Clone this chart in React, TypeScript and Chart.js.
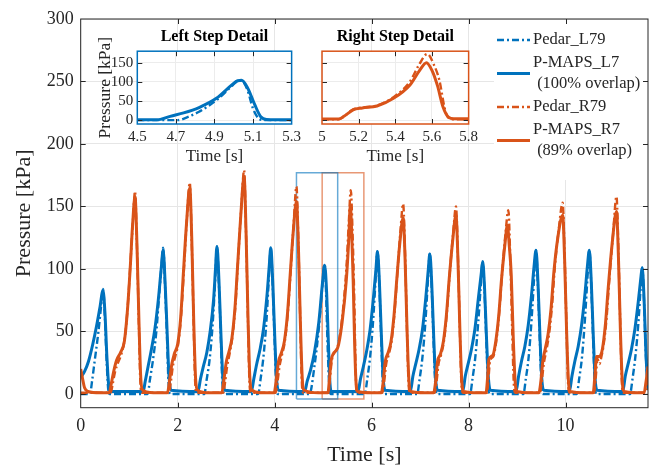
import React, { useEffect, useRef } from "react";
import { Chart, registerables } from "chart.js";
Chart.register(...registerables);

const BLUE = "#0072BD";
const ORANGE = "#D95319";
const TXT = "#262626";
const FONT = "'Liberation Serif', 'Times New Roman', serif";

// ---------- main chart data: [time s, pressure kPa] ----------
const pedarL79 = [
  [0, 0], [0.19, 0], [0.24, 12], [0.29, 27], [0.36, 48], [0.42, 70], [0.46, 84], [0.5, 60], [0.54, 22], [0.57, 3], [0.6, 0],
  [1.38, 0], [1.43, 12], [1.49, 27], [1.56, 50], [1.62, 80], [1.67, 104], [1.7, 117], [1.74, 86], [1.78, 45], [1.81, 10], [1.84, 0],
  [2.55, 0], [2.6, 12], [2.66, 28], [2.72, 55], [2.77, 88], [2.81, 118], [2.85, 88], [2.89, 45], [2.92, 10], [2.95, 0],
  [3.66, 0], [3.71, 12], [3.77, 30], [3.83, 58], [3.88, 92], [3.92, 117], [3.96, 86], [4.0, 42], [4.03, 10], [4.06, 0],
  [4.72, 0], [4.82, 22], [4.91, 52], [4.99, 89], [5.03, 104], [5.1, 30], [5.13, 4], [5.16, 0],
  [5.86, 0], [5.91, 12], [5.97, 30], [6.03, 58], [6.08, 90], [6.12, 114], [6.16, 86], [6.2, 42], [6.23, 10], [6.26, 0],
  [6.94, 0], [6.99, 12], [7.05, 30], [7.11, 58], [7.16, 90], [7.2, 112], [7.24, 84], [7.28, 40], [7.31, 10], [7.34, 0],
  [8.03, 0], [8.08, 12], [8.14, 30], [8.2, 58], [8.25, 86], [8.29, 106], [8.33, 80], [8.37, 38], [8.4, 8], [8.43, 0],
  [9.13, 0], [9.18, 12], [9.24, 30], [9.3, 60], [9.35, 92], [9.39, 115], [9.43, 86], [9.47, 42], [9.5, 10], [9.53, 0],
  [10.23, 0], [10.28, 12], [10.34, 30], [10.4, 60], [10.45, 92], [10.49, 115], [10.53, 86], [10.57, 42], [10.6, 10], [10.63, 0],
  [11.33, 0], [11.38, 12], [11.44, 30], [11.5, 56], [11.55, 86], [11.58, 101], [11.62, 72], [11.66, 28], [11.7, 3],
];

const pmapsL7 = [
  [0, 13], [0.08, 18], [0.16, 26], [0.25, 40], [0.33, 55], [0.4, 70], [0.46, 83], [0.5, 65], [0.54, 30], [0.58, 6], [0.62, 2],
  [1.29, 2], [1.33, 10], [1.39, 22], [1.46, 36], [1.53, 52], [1.6, 75], [1.66, 100], [1.7, 115], [1.74, 90], [1.78, 52], [1.82, 15], [1.86, 3],
  [2.42, 2], [2.47, 12], [2.53, 22], [2.6, 33], [2.67, 50], [2.74, 75], [2.78, 100], [2.81, 118], [2.85, 92], [2.89, 50], [2.93, 14], [2.97, 3],
  [3.52, 2], [3.57, 12], [3.63, 24], [3.7, 36], [3.77, 52], [3.84, 78], [3.89, 103], [3.92, 117], [3.96, 90], [4.0, 48], [4.04, 12], [4.08, 3],
  [4.62, 2], [4.67, 10], [4.74, 19], [4.82, 33], [4.91, 57], [4.99, 90], [5.03, 103], [5.07, 83], [5.11, 39], [5.14, 9], [5.17, 2],
  [5.72, 2], [5.77, 12], [5.83, 22], [5.9, 35], [5.97, 52], [6.04, 78], [6.09, 100], [6.12, 114], [6.16, 90], [6.2, 48], [6.24, 12], [6.28, 3],
  [6.8, 2], [6.85, 14], [6.91, 24], [6.98, 36], [7.05, 52], [7.12, 78], [7.17, 100], [7.2, 112], [7.24, 88], [7.28, 46], [7.32, 12], [7.36, 3],
  [7.88, 2], [7.93, 14], [7.99, 24], [8.06, 36], [8.13, 52], [8.2, 76], [8.26, 96], [8.29, 106], [8.33, 84], [8.37, 44], [8.41, 12], [8.45, 3],
  [8.98, 2], [9.03, 14], [9.09, 26], [9.16, 38], [9.23, 55], [9.3, 80], [9.35, 102], [9.39, 115], [9.43, 90], [9.47, 48], [9.51, 12], [9.55, 3],
  [10.08, 2], [10.13, 14], [10.19, 26], [10.26, 38], [10.33, 55], [10.4, 80], [10.45, 102], [10.49, 115], [10.53, 90], [10.57, 48], [10.61, 12], [10.65, 3],
  [11.18, 2], [11.23, 14], [11.29, 24], [11.36, 36], [11.43, 52], [11.5, 74], [11.55, 92], [11.58, 101], [11.62, 75], [11.66, 30], [11.7, 5],
];

const pedarR79 = [
  [0, 1], [0.4, 1],
  [0.62, 1], [0.66, 8], [0.71, 18], [0.77, 25], [0.84, 32], [0.91, 45], [0.97, 70], [1.03, 108], [1.08, 140], [1.12, 162], [1.16, 118], [1.2, 55], [1.23, 10], [1.26, 1],
  [1.82, 1], [1.86, 10], [1.9, 22], [1.95, 30], [2.01, 40], [2.07, 62], [2.13, 100], [2.19, 140], [2.25, 169], [2.29, 122], [2.33, 55], [2.36, 10], [2.39, 1],
  [2.94, 1], [2.98, 10], [3.02, 22], [3.07, 32], [3.13, 46], [3.19, 70], [3.25, 110], [3.31, 148], [3.37, 179], [3.41, 128], [3.45, 58], [3.48, 10], [3.51, 1],
  [4.02, 1], [4.06, 10], [4.1, 22], [4.15, 31], [4.21, 42], [4.27, 64], [4.33, 98], [4.39, 135], [4.45, 166], [4.49, 120], [4.53, 55], [4.56, 10], [4.59, 1],
  [5.11, 1], [5.14, 12], [5.18, 27], [5.3, 38], [5.39, 60], [5.48, 101], [5.53, 138], [5.57, 163], [5.61, 125], [5.64, 80], [5.67, 20], [5.69, 3], [5.72, 1],
  [6.22, 1], [6.26, 10], [6.3, 24], [6.35, 31], [6.41, 42], [6.47, 64], [6.53, 96], [6.59, 128], [6.65, 152], [6.69, 112], [6.73, 50], [6.76, 10], [6.79, 1],
  [7.3, 1], [7.34, 10], [7.38, 24], [7.43, 31], [7.49, 42], [7.55, 64], [7.61, 96], [7.68, 128], [7.74, 150], [7.78, 110], [7.82, 50], [7.85, 10], [7.88, 1],
  [8.38, 1], [8.41, 12], [8.44, 26], [8.51, 30], [8.57, 42], [8.63, 64], [8.69, 96], [8.76, 128], [8.82, 147], [8.86, 108], [8.9, 50], [8.93, 10], [8.96, 1],
  [9.47, 1], [9.51, 10], [9.55, 24], [9.6, 34], [9.66, 48], [9.72, 70], [9.78, 102], [9.86, 132], [9.94, 153], [9.98, 112], [10.02, 52], [10.05, 10], [10.08, 1],
  [10.59, 1], [10.62, 12], [10.66, 28], [10.7, 24], [10.74, 30], [10.78, 38], [10.84, 58], [10.9, 90], [10.98, 128], [11.05, 158], [11.09, 115], [11.13, 52], [11.16, 10], [11.19, 1],
  [11.64, 1], [11.68, 8], [11.7, 15],
];

const pmapsR7 = [
  [0, 20], [0.04, 12], [0.08, 5], [0.15, 2], [0.4, 1],
  [0.59, 1], [0.63, 8], [0.68, 18], [0.74, 27], [0.82, 33], [0.9, 42], [0.96, 65], [1.02, 100], [1.07, 135], [1.12, 158], [1.16, 120], [1.2, 60], [1.24, 12], [1.28, 3], [1.5, 1],
  [1.79, 1], [1.83, 10], [1.88, 24], [1.93, 32], [2.0, 40], [2.06, 60], [2.12, 98], [2.18, 135], [2.25, 165], [2.29, 125], [2.33, 60], [2.37, 12], [2.41, 3], [2.6, 1],
  [2.91, 1], [2.95, 10], [3.0, 25], [3.06, 34], [3.12, 45], [3.18, 68], [3.24, 105], [3.3, 142], [3.37, 174], [3.41, 130], [3.45, 62], [3.49, 12], [3.53, 3], [3.7, 1],
  [3.99, 1], [4.03, 10], [4.08, 26], [4.14, 33], [4.2, 42], [4.26, 62], [4.32, 95], [4.38, 128], [4.45, 154], [4.49, 118], [4.53, 58], [4.57, 12], [4.61, 3], [4.9, 1],
  [5.1, 1], [5.13, 12], [5.17, 28], [5.3, 37], [5.39, 57], [5.48, 92], [5.53, 125], [5.56, 151], [5.59, 128], [5.62, 90], [5.65, 40], [5.68, 8], [5.71, 2], [6.0, 1],
  [6.2, 1], [6.24, 10], [6.28, 26], [6.34, 33], [6.4, 42], [6.46, 62], [6.52, 92], [6.58, 120], [6.65, 141], [6.69, 108], [6.73, 52], [6.77, 10], [6.81, 2], [7.1, 1],
  [7.28, 1], [7.32, 10], [7.36, 26], [7.42, 32], [7.48, 42], [7.54, 62], [7.6, 92], [7.67, 122], [7.74, 143], [7.78, 108], [7.82, 52], [7.86, 10], [7.9, 2], [8.2, 1],
  [8.36, 1], [8.39, 12], [8.42, 28], [8.5, 31], [8.56, 42], [8.62, 62], [8.68, 92], [8.75, 120], [8.8, 135], [8.84, 118], [8.88, 95], [8.92, 46], [8.96, 10], [9.0, 2], [9.3, 1],
  [9.45, 1], [9.49, 10], [9.53, 26], [9.58, 36], [9.64, 48], [9.7, 68], [9.76, 98], [9.84, 125], [9.94, 143], [9.98, 108], [10.02, 52], [10.06, 10], [10.1, 2], [10.4, 1],
  [10.57, 1], [10.6, 12], [10.64, 30], [10.7, 30], [10.76, 36], [10.82, 55], [10.88, 85], [10.96, 120], [11.05, 146], [11.09, 110], [11.13, 52], [11.17, 10], [11.21, 2], [11.5, 1],
  [11.62, 1], [11.66, 10], [11.7, 22],
];

// zoom-region rectangles (data units)
const leftZoomBox = [[4.45, -4], [5.3, -4], [5.3, 177], [4.45, 177], [4.45, -4]];
const rightZoomBox = [[4.98, -4], [5.84, -4], [5.84, 177], [4.98, 177], [4.98, -4]];

// ---------- inset data ----------
const insetPedarL = [
  [4.5, 0], [4.71, 0], [4.76, 8], [4.82, 22], [4.91, 52], [4.99, 89], [5.02, 102], [5.04, 103], [5.07, 80], [5.1, 30], [5.13, 4], [5.16, 0], [5.3, 0],
];
const insetPmapsL = [
  [4.5, 1], [4.6, 1], [4.62, 2], [4.67, 10], [4.74, 19], [4.82, 33], [4.91, 57], [4.99, 92], [5.02, 103], [5.04, 104], [5.07, 86], [5.11, 39], [5.14, 9], [5.17, 2], [5.3, 1],
];
const insetPedarR = [
  [5.0, 2], [5.09, 2], [5.12, 10], [5.17, 28], [5.22, 33], [5.3, 38], [5.39, 60], [5.48, 101], [5.53, 145], [5.575, 173], [5.61, 145], [5.64, 105], [5.67, 30], [5.69, 6], [5.72, 2], [5.8, 2],
];
const insetPmapsR = [
  [5.0, 3], [5.09, 3], [5.12, 10], [5.17, 27], [5.22, 32], [5.3, 37], [5.39, 57], [5.48, 92], [5.53, 128], [5.57, 150], [5.6, 130], [5.63, 90], [5.66, 35], [5.69, 8], [5.72, 4], [5.8, 4],
];

// ---------- ticks ----------
const mainXTicks = [0, 2, 4, 6, 8, 10];
const mainYTicks = [0, 50, 100, 150, 200, 250, 300];
const insetYTicks = [0, 50, 100, 150];
const insetLXTicks = [4.5, 4.7, 4.9, 5.1, 5.3];
const insetRXTicks = [5, 5.2, 5.4, 5.6, 5.8];

const legendEntries = [
  { lines: ["Pedar_L79"], color: BLUE, dash: true },
  { lines: ["P-MAPS_L7", " (100% overlap)"], color: BLUE, dash: false },
  { lines: ["Pedar_R79"], color: ORANGE, dash: true },
  { lines: ["P-MAPS_R7", " (89% overlap)"], color: ORANGE, dash: false },
];

const DASH = [7, 3, 2, 3];
const SOLID_W = 3;
const DASH_W = 2.4;
const toXY = (a: number[][]) => a.map(([x, y]) => ({ x, y }));
const fmt = (v: any) => String(+Number(v).toFixed(1));

function framePlugin(boxColor: string, boxWidth: number, fillWhite: boolean) {
  return {
    id: "frame",
    beforeDraw(chart: any) {
      if (!fillWhite) return;
      const { ctx, chartArea: a } = chart;
      ctx.save();
      ctx.fillStyle = "#fff";
      ctx.fillRect(a.left, a.top, a.right - a.left, a.bottom - a.top);
      ctx.restore();
    },
    afterDatasetsDraw(chart: any) {
      const { ctx, chartArea: a, scales } = chart;
      const len = 5;
      ctx.save();
      ctx.strokeStyle = TXT;
      ctx.lineWidth = 1;
      ctx.beginPath();
      scales.x.ticks.forEach((t: any) => {
        const px = Math.round(scales.x.getPixelForValue(t.value)) + 0.5;
        if (px <= a.left + 1 || px >= a.right - 1) return;
        ctx.moveTo(px, a.bottom);
        ctx.lineTo(px, a.bottom - len);
        ctx.moveTo(px, a.top);
        ctx.lineTo(px, a.top + len);
      });
      scales.y.ticks.forEach((t: any) => {
        const py = Math.round(scales.y.getPixelForValue(t.value)) + 0.5;
        if (py <= a.top + 1 || py >= a.bottom - 1) return;
        ctx.moveTo(a.left, py);
        ctx.lineTo(a.left + len, py);
        ctx.moveTo(a.right, py);
        ctx.lineTo(a.right - len, py);
      });
      ctx.stroke();
      ctx.strokeStyle = boxColor;
      ctx.lineWidth = boxWidth;
      ctx.strokeRect(a.left, a.top, a.right - a.left, a.bottom - a.top);
      ctx.restore();
    },
  };
}

const legendPlugin = {
  id: "mainLegend",
  beforeDatasetsDraw(chart: any) {
    const { ctx } = chart;
    ctx.save();
    ctx.fillStyle = "#fff";
    ctx.fillRect(494, 20, 153, 160);
    ctx.restore();
  },
  afterDatasetsDraw(chart: any) {
    const { ctx } = chart;
    ctx.save();
    ctx.font = `16.5px ${FONT}`;
    ctx.textBaseline = "middle";
    ctx.textAlign = "left";
    let y = 40;
    const lineH = 21;
    legendEntries.forEach((e) => {
      const lineY = y + ((e.lines.length - 1) * lineH) / 2;
      ctx.strokeStyle = e.color;
      ctx.lineWidth = e.dash ? DASH_W : SOLID_W;
      ctx.setLineDash(e.dash ? DASH : []);
      ctx.beginPath();
      ctx.moveTo(497, lineY);
      ctx.lineTo(530, lineY);
      ctx.stroke();
      ctx.setLineDash([]);
      ctx.fillStyle = TXT;
      e.lines.forEach((l, i) => ctx.fillText(l, 533, y + i * lineH));
      y += e.lines.length * lineH + 2;
    });
    ctx.restore();
  },
};

function lineDs(label: string, data: number[][], color: string, dashed: boolean, order: number) {
  return {
    label,
    data: toXY(data),
    borderColor: color,
    backgroundColor: color,
    borderWidth: dashed ? DASH_W : SOLID_W,
    borderDash: dashed ? DASH : [],
    pointRadius: 0,
    cubicInterpolationMode: "monotone",
    fill: false,
    order,
  };
}

function boxDs(data: number[][], color: string) {
  return {
    label: "box",
    data: toXY(data),
    borderColor: color,
    borderWidth: 1.5,
    pointRadius: 0,
    tension: 0,
    fill: false,
    order: 10,
  };
}

const tickFont = (size: number) => ({ family: FONT, size });

export default function App() {
  const mainRef = useRef<HTMLCanvasElement>(null);
  const lRef = useRef<HTMLCanvasElement>(null);
  const rRef = useRef<HTMLCanvasElement>(null);

  useEffect(() => {
    const charts: Chart[] = [];

    charts.push(
      new Chart(mainRef.current as HTMLCanvasElement, {
        type: "line",
        data: {
          datasets: [
            lineDs("Pedar_L79", pedarL79, BLUE, true, 4),
            lineDs("P-MAPS_L7", pmapsL7, BLUE, false, 3),
            lineDs("Pedar_R79", pedarR79, ORANGE, true, 2),
            lineDs("P-MAPS_R7", pmapsR7, ORANGE, false, 1),
            boxDs(leftZoomBox, "rgba(0,114,189,0.6)"),
            boxDs(rightZoomBox, "rgba(217,83,25,0.6)"),
          ] as any,
        },
        options: {
          animation: false,
          responsive: false,
          events: [],
          layout: { padding: { top: 19, right: 8, left: 0, bottom: 0 } },
          plugins: { legend: { display: false }, tooltip: { enabled: false } },
          scales: {
            x: {
              type: "linear",
              min: 0,
              max: 11.7,
              afterBuildTicks: (s: any) => { s.ticks = mainXTicks.map((v) => ({ value: v })); },
              afterFit: (s: any) => { s.height = 60.3; },
              ticks: { font: tickFont(18), color: TXT, padding: 8, maxRotation: 0, autoSkip: false, callback: fmt },
              grid: { color: "#e6e6e6", drawTicks: false },
              border: { display: false },
              title: { display: true, text: "Time [s]", font: tickFont(22), color: TXT, padding: { top: 0, bottom: 0 } },
            },
            y: {
              type: "linear",
              min: -11,
              max: 300,
              afterBuildTicks: (s: any) => { s.ticks = mainYTicks.map((v) => ({ value: v })); },
              afterFit: (s: any) => { s.width = 80.7; },
              ticks: { font: tickFont(18), color: TXT, padding: 7, autoSkip: false, callback: fmt },
              grid: { color: "#e6e6e6", drawTicks: false },
              border: { display: false },
              title: { display: true, text: "Pressure [kPa]", font: tickFont(22), color: TXT, padding: { top: 11, bottom: 0 } },
            },
          },
        } as any,
        plugins: [framePlugin(TXT, 1, false), legendPlugin] as any,
      })
    );

    const insetOptions = (xTicks: number[], min: number, max: number, yAxisWidth: number, showY: boolean, title: string, padRight: number) => ({
      animation: false,
      responsive: false,
      events: [],
      layout: { padding: { top: 0, right: padRight, left: 0, bottom: 0 } },
      plugins: {
        legend: { display: false },
        tooltip: { enabled: false },
        title: {
          display: true,
          text: title,
          fullSize: false,
          font: { family: FONT, size: 16, weight: "bold" },
          color: "#000",
          padding: { top: 5, bottom: 5 },
        },
      },
      scales: {
        x: {
          type: "linear",
          min,
          max,
          afterBuildTicks: (s: any) => { s.ticks = xTicks.map((v) => ({ value: v })); },
          afterFit: (s: any) => { s.height = 48; },
          ticks: { font: tickFont(15), color: TXT, padding: 4, maxRotation: 0, autoSkip: false, callback: fmt },
          grid: { color: "#ececec", drawTicks: false },
          border: { display: false },
          title: { display: true, text: "Time [s]", font: tickFont(17), color: TXT, padding: { top: 0, bottom: 5 } },
        },
        y: {
          type: "linear",
          min: -10,
          max: 180,
          afterBuildTicks: (s: any) => { s.ticks = insetYTicks.map((v) => ({ value: v })); },
          afterFit: (s: any) => { s.width = yAxisWidth; },
          ticks: { display: showY, font: tickFont(15), color: TXT, padding: 4, autoSkip: false, callback: fmt },
          grid: { color: "#ececec", drawTicks: false },
          border: { display: false },
          title: { display: showY, text: "Pressure [kPa]", font: tickFont(17.5), color: TXT, padding: { top: 5, bottom: 0 } },
        },
      },
    });

    charts.push(
      new Chart(lRef.current as HTMLCanvasElement, {
        type: "line",
        data: {
          datasets: [
            lineDs("Pedar_L79", insetPedarL, BLUE, true, 2),
            lineDs("P-MAPS_L7", insetPmapsL, BLUE, false, 1),
          ] as any,
        },
        options: insetOptions(insetLXTicks, 4.5, 5.3, 47.3, true, "Left Step Detail", 12) as any,
        plugins: [framePlugin(BLUE, 1.5, true)] as any,
      })
    );

    charts.push(
      new Chart(rRef.current as HTMLCanvasElement, {
        type: "line",
        data: {
          datasets: [
            lineDs("Pedar_R79", insetPedarR, ORANGE, true, 2),
            lineDs("P-MAPS_R7", insetPmapsR, ORANGE, false, 1),
          ] as any,
        },
        options: insetOptions(insetRXTicks, 5, 5.8, 10, false, "Right Step Detail", 13) as any,
        plugins: [framePlugin(ORANGE, 1.5, true)] as any,
      })
    );

    return () => charts.forEach((c) => c.destroy());
  }, []);

  return (
    <div style={{ position: "fixed", left: 0, top: 0, width: 656, height: 468, background: "#fff" }}>
      <canvas ref={mainRef} width={656} height={468} style={{ position: "absolute", left: 0, top: 0 }} />
      <canvas ref={lRef} width={215} height={150} style={{ position: "absolute", left: 90, top: 22 }} />
      <canvas ref={rRef} width={170} height={150} style={{ position: "absolute", left: 312, top: 22 }} />
    </div>
  );
}
